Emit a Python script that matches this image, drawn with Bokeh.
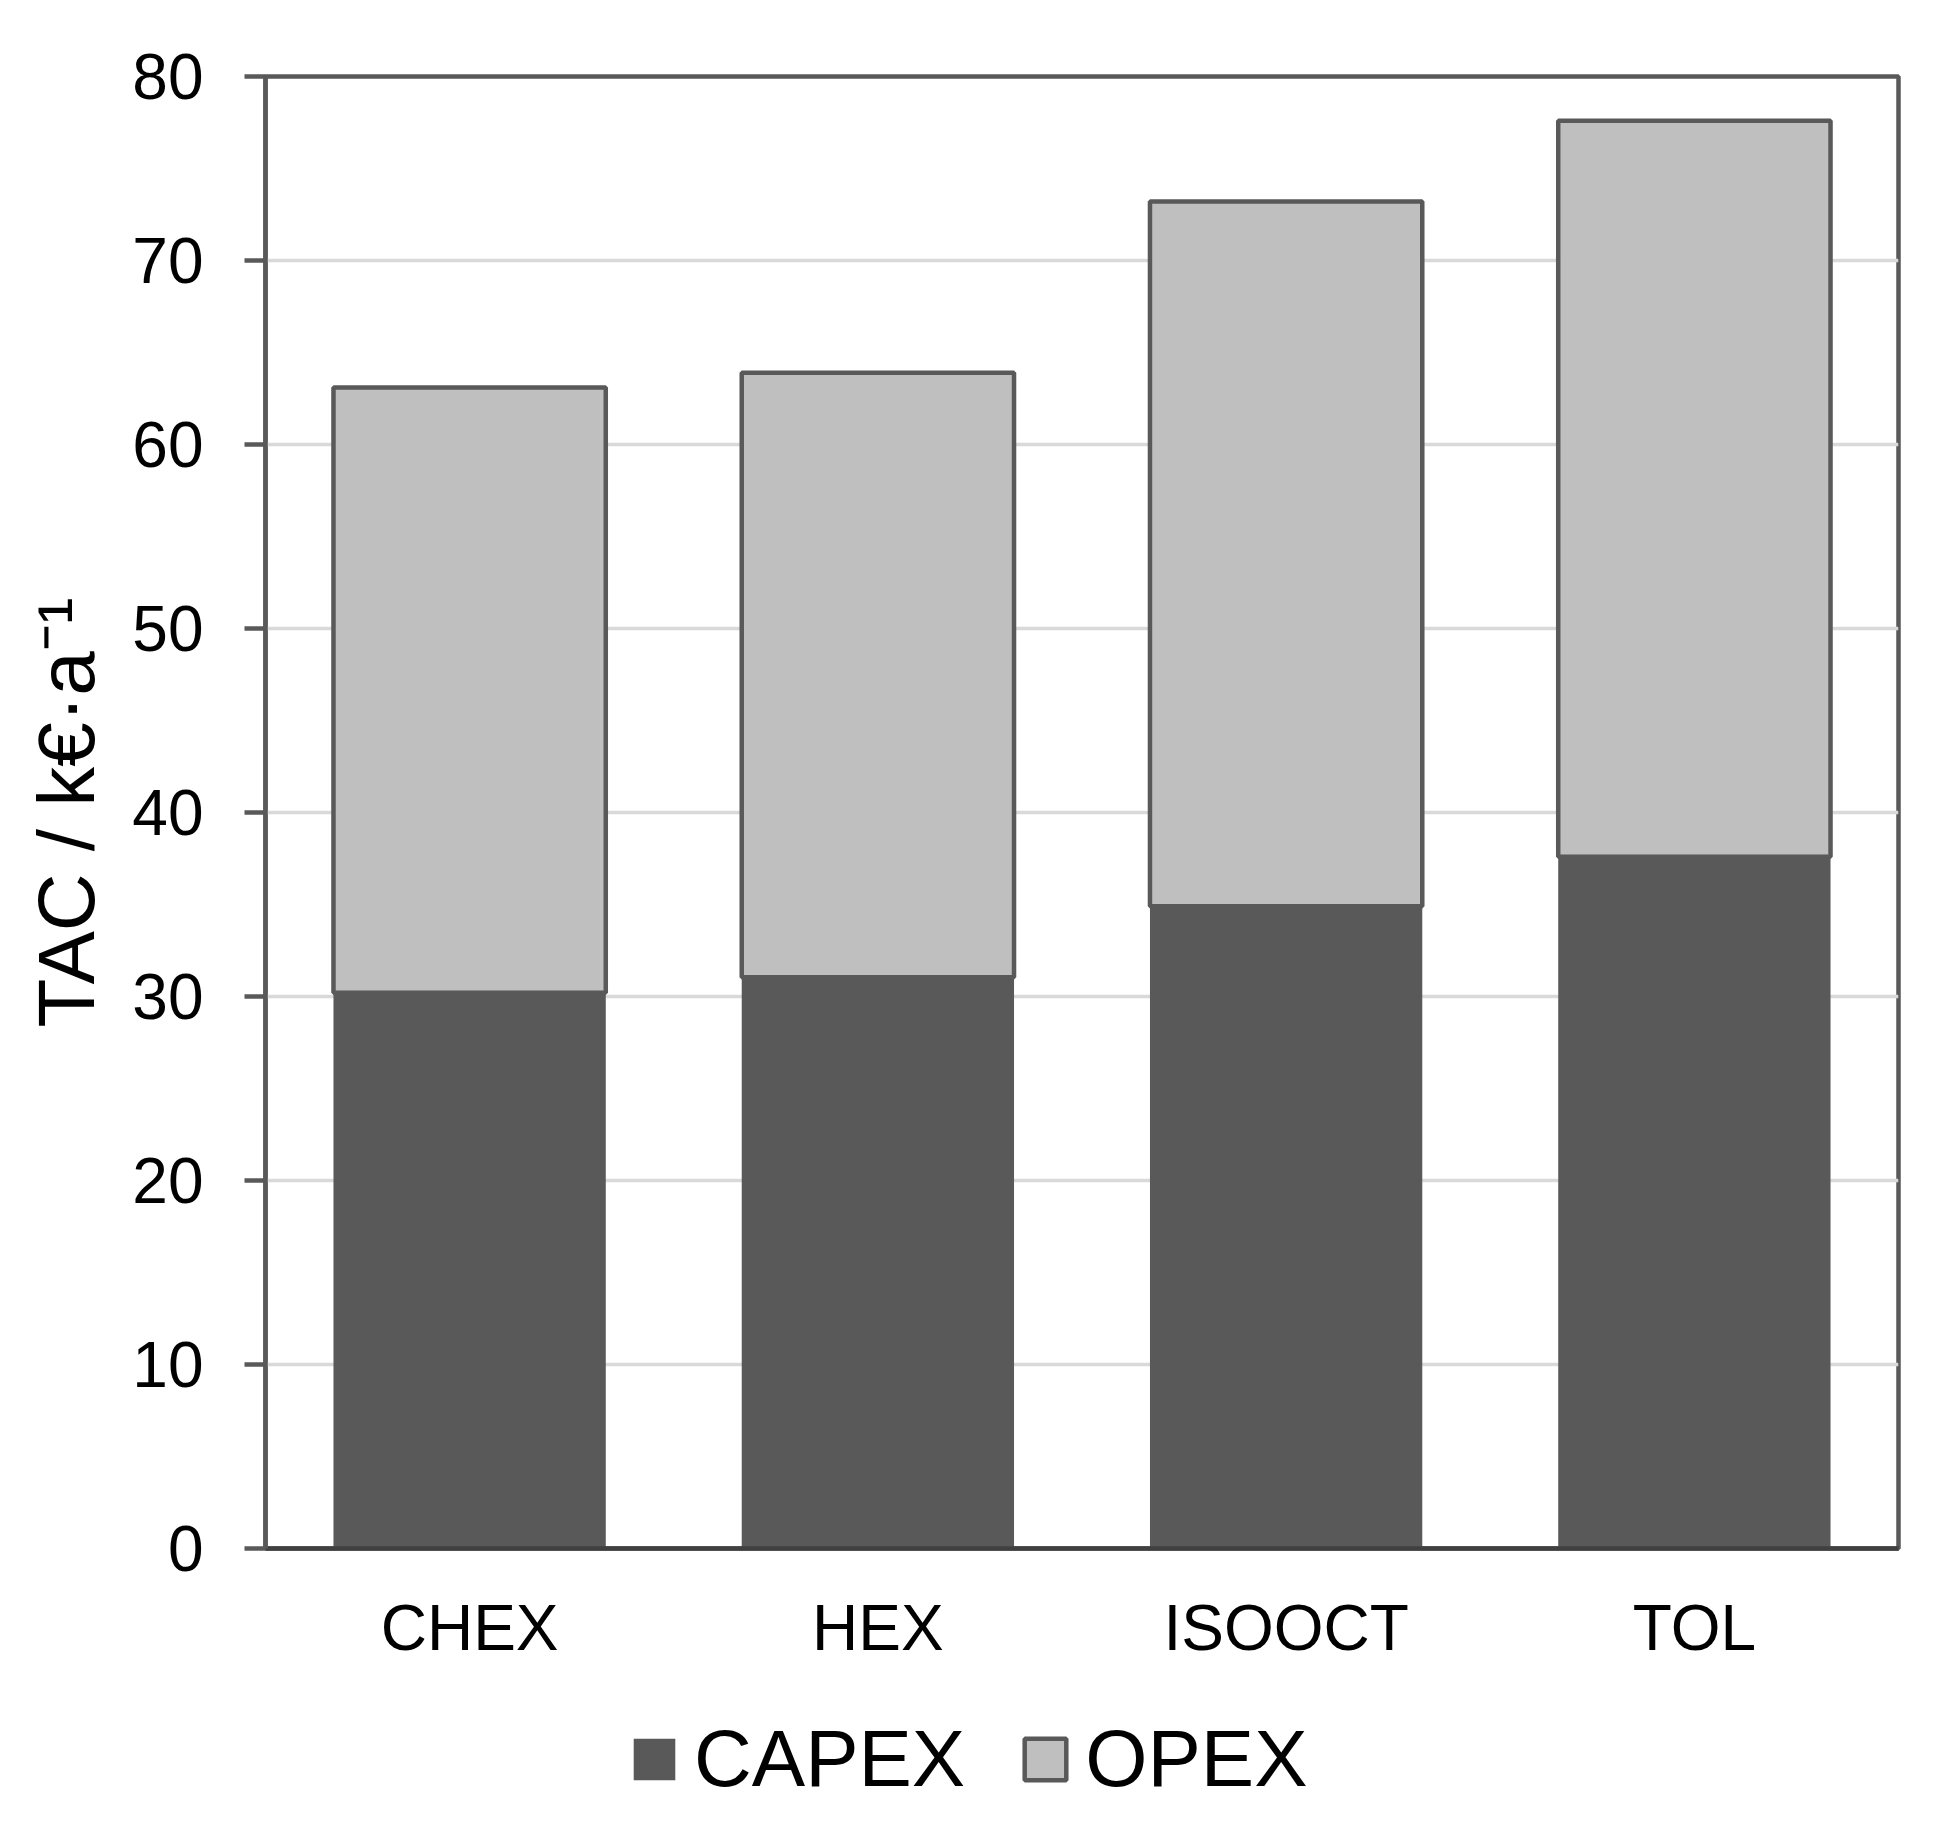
from bokeh.plotting import figure
from bokeh.layouts import column
from bokeh.models import ColumnDataSource, FixedTicker, Legend, LegendItem, FactorRange, Range1d
from bokeh.embed import file_html
from bokeh.resources import INLINE

# ---- data ----
categories = ["CHEX", "HEX", "ISOOCT", "TOL"]
capex = [30.2, 31.05, 34.9, 37.6]
opex = [32.9, 32.85, 38.3, 40.0]
series_names = ["CAPEX", "OPEX"]
y_ticks = [0, 10, 20, 30, 40, 50, 60, 70, 80]
y_title = "TAC / k€·a⁻¹"

FONT = "Liberation Sans"
DARK = "#595959"
LIGHT = "#BFBFBF"
FILLS = [DARK, LIGHT]
LINES = [None, DARK]
LWS = [0, 4.5]

src = ColumnDataSource(data=dict(cat=categories, CAPEX=capex, OPEX=opex))

p = figure(
    width=1945, height=1680,
    x_range=FactorRange(*categories, range_padding=0),
    y_range=Range1d(0, 80),
    output_backend="svg", toolbar_location=None,
    min_border_left=265, min_border_right=47,
    min_border_top=76, min_border_bottom=132,
)
p.background_fill_color = "white"
p.border_fill_color = "white"
p.outline_line_color = DARK
p.outline_line_width = 4.5

renderers = p.vbar_stack(
    series_names, x="cat", width=0.667, source=src,
    fill_color=FILLS, line_color=LINES, line_width=LWS,
)

# grid
p.xgrid.grid_line_color = None
p.ygrid.grid_line_color = "#D9D9D9"
p.ygrid.grid_line_width = 3.5
p.ygrid.ticker = FixedTicker(ticks=y_ticks)

# y axis
p.yaxis.ticker = FixedTicker(ticks=y_ticks)
p.yaxis.axis_line_color = DARK
p.yaxis.axis_line_width = 4.5
p.yaxis.major_tick_line_color = DARK
p.yaxis.major_tick_line_width = 4.5
p.yaxis.major_tick_out = 21
p.yaxis.major_tick_in = 0
p.yaxis.minor_tick_line_color = None
p.yaxis.major_label_text_font = FONT
p.yaxis.major_label_text_font_size = "64px"
p.yaxis.major_label_text_color = "black"
p.yaxis.major_label_standoff = 41
p.yaxis.axis_label = y_title
p.yaxis.axis_label_text_font = FONT
p.yaxis.axis_label_text_font_size = "80px"
p.yaxis.axis_label_text_font_style = "normal"
p.yaxis.axis_label_text_color = "black"
p.yaxis.axis_label_standoff = 18

# x axis
p.xaxis.axis_line_color = "#404040"
p.xaxis.axis_line_width = 4.5
p.xaxis.major_tick_line_color = None
p.xaxis.major_tick_out = 0
p.xaxis.major_tick_in = 0
p.xaxis.minor_tick_line_color = None
p.xaxis.major_label_text_font = FONT
p.xaxis.major_label_text_font_size = "64px"
p.xaxis.major_label_text_color = "black"
p.xaxis.major_label_standoff = 43

# legend strip (separate figure below the chart; its bars are hidden,
# only their legend swatches are shown)
p2 = figure(
    width=1945, height=151,
    x_range=p.x_range, y_range=Range1d(0, 1),
    x_axis_type=None, y_axis_type=None,
    output_backend="svg", toolbar_location=None,
    min_border=0,
)
p2.outline_line_color = None
p2.background_fill_color = "white"
p2.border_fill_color = "white"
leg_renderers = p2.vbar_stack(
    series_names, x="cat", width=0.667, source=src,
    fill_color=FILLS, line_color=LINES, line_width=LWS,
)
for r in leg_renderers:
    r.visible = False

legend = Legend(
    items=[LegendItem(label=n, renderers=[r]) for n, r in zip(series_names, leg_renderers)],
    orientation="horizontal",
    location=(363, 26),
    label_text_font=FONT,
    label_text_font_size="80px",
    label_text_color="black",
    glyph_width=52, glyph_height=52,
    label_standoff=14, spacing=54,
    padding=0, margin=0,
    border_line_color=None,
    background_fill_alpha=0,
    inactive_fill_alpha=0,
)
p2.add_layout(legend, "center")

layout = column(p, p2, spacing=0)
open("out.html", "w").write(file_html(layout, INLINE))
